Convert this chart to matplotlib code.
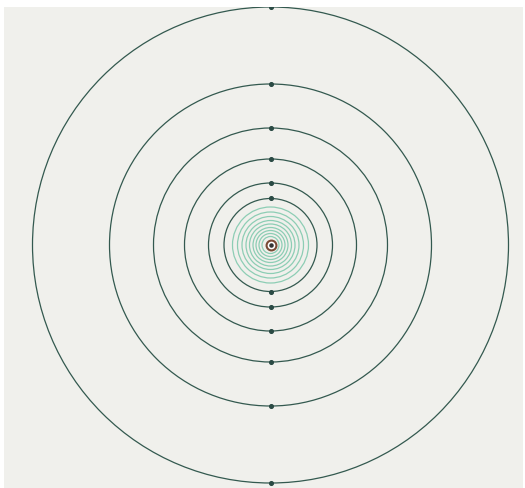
import numpy as np
import matplotlib.pyplot as plt
from matplotlib.patches import Circle

# orbit radii (same units as the axes), outer rings carry markers top and bottom
outer_radii = [238, 161, 117, 86, 62, 46.5]
inner_radii = [38, 33, 28.5, 24.5, 21, 17.5, 14.5, 11.5, 8.5]
center = (0, 0)

ring_color = "#33594f"
inner_color = "#6cc2a2"
bg_color = "#f0f0ec"

fig = plt.figure(figsize=(5.25, 4.88), dpi=100)
ax = fig.add_axes([4 / 525, 0, 519 / 525, 481 / 488])
ax.set_facecolor(bg_color)

for r in inner_radii:
    ax.add_patch(Circle(center, r, fill=False, edgecolor=inner_color, lw=0.9, alpha=0.75))

for r in outer_radii:
    ax.add_patch(Circle(center, r, fill=False, edgecolor=ring_color, lw=0.9))

# markers where each ring crosses the vertical axis
xs = [center[0]] * (2 * len(outer_radii))
ys = [center[1] + r for r in outer_radii] + [center[1] - r for r in outer_radii]
ax.scatter(xs, ys, s=7, color="#2a4a44", zorder=3)

# central body
ax.scatter([center[0]], [center[1]], s=50, facecolor="white", edgecolor="#7a4a35", lw=1.5, zorder=4)
ax.scatter([center[0]], [center[1]], s=5, color="#333333", zorder=5)

ax.set_xlim(-266.5, 252.5)
ax.set_ylim(-243, 238)
ax.set_aspect("equal")
ax.set_xticks([])
ax.set_yticks([])
for s in ax.spines.values():
    s.set_visible(False)

fig.savefig("out.png", dpi=100, facecolor="white")
